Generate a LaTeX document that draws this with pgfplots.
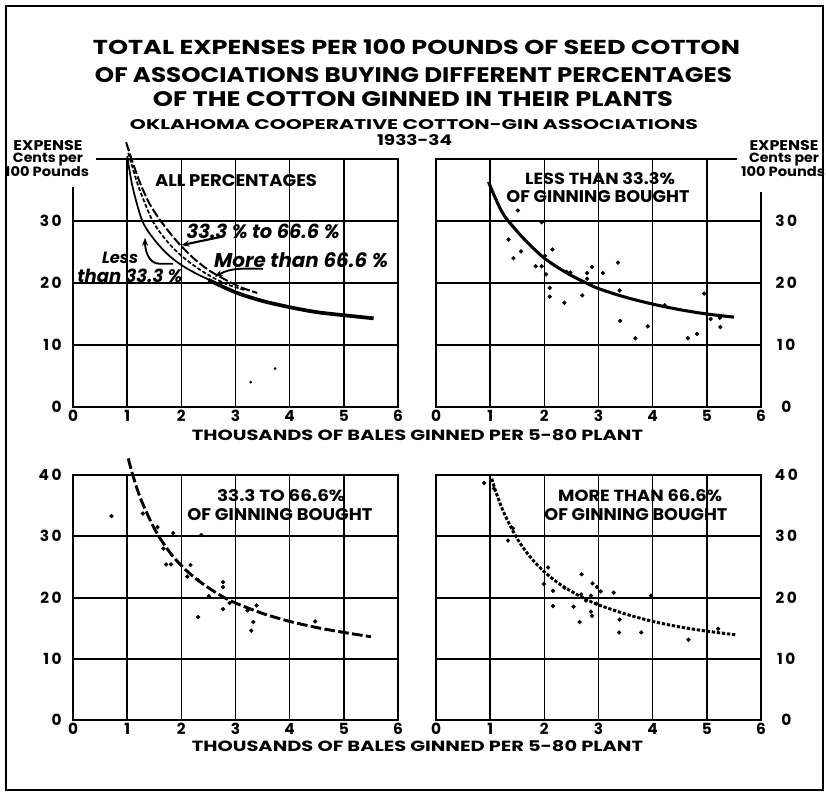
\documentclass[border=0pt]{standalone}
\usepackage{fontspec}
\setmainfont{Poppins}
\usepackage{graphicx}
\usepackage{pgfplots}
\pgfplotsset{compat=1.18}
\usetikzlibrary{arrows.meta}

% 1 px of the reference = 0.75pt
\newdimen\px \px=0.75pt
\newcommand{\wbox}[2]{\resizebox{#1\px}{!}{#2}}
\newcommand{\whbox}[3]{\resizebox{#1\px}{#2\px}{#3}}

\pgfplotsset{
  panel/.style={
    scale only axis, width=243.75pt,
    xmin=0, xmax=6, ymin=0, ymax=40,
    xtick={0,...,6}, xticklabels={0,1,2,3,4,5,6},
    grid=major,
    major x grid style={black, line width=1.2pt},
    major y grid style={black, line width=1.5pt},
    axis line style={black, line width=2pt},
    major tick length=0pt,
    tick label style={font=\fontsize{11.5}{13}\selectfont\bfseries},
    xticklabel style={yshift=1pt},
    clip=false,
  },
  leftlab/.style={yticklabel style={anchor=east, xshift=-5pt}},
  rightlab/.style={yticklabel pos=right, yticklabel style={anchor=center, xshift=19pt}},
  dots/.style={only marks, mark=*, mark size=1.4pt, black},
}

\begin{document}
\begin{tikzpicture}

% ---- top left: all percentages
\begin{axis}[panel, leftlab, height=186pt, at={(54.75pt,-305.25pt)}, anchor=south west,
  ytick={0,10,20,30}, yticklabels={0,1\,0,2\,0,3\,0}]
\addplot[black, line width=1.3pt, smooth] coordinates {
  (1.0,40.5) (1.1,35.5) (1.28,30.0) (1.5,27.0) (1.75,24.6) (2.0,22.9) (2.3,21.4) (2.6,20.2)};
\addplot[black, line width=1.3pt, smooth, dash pattern=on 3pt off 1.5pt] coordinates {
  (1.02,41.0) (1.2,35.8) (1.47,30.0) (1.75,26.6) (2.0,24.4) (2.3,22.4) (2.6,20.8) (2.9,19.6) (3.2,18.8)};
\addplot[black, line width=1.5pt, smooth, dash pattern=on 7pt off 2pt] coordinates {
  (0.98,42.7) (1.2,37.0) (1.4,33.0) (1.62,30.0) (1.9,26.9) (2.2,24.2) (2.5,22.1) (2.8,20.6) (3.1,19.3) (3.4,18.4)};
\addplot[black, line width=2.8pt, smooth] coordinates {
  (2.5,20.5) (3.0,18.5) (3.5,17.1) (4.0,16.1) (4.5,15.3) (5.0,14.8) (5.55,14.3)};
\addplot[only marks, mark=*, mark size=0.8pt, black] coordinates {(3.73,6.2) (3.28,4.0)};
\node[inner sep=0] at (axis cs:3.01,36.5) {\whbox{162}{12}{\bfseries ALL PERCENTAGES}};
\node[inner sep=0] at (axis cs:3.51,28.4) {\wbox{153}{\bfseries\itshape 33.3 \% to 66.6 \%}};
\node[inner sep=0] at (axis cs:4.21,23.7) {\wbox{174}{\bfseries\itshape More than 66.6 \%}};
\node[inner sep=0] at (axis cs:0.87,24.0) {\wbox{36}{\bfseries\itshape Less}};
\node[inner sep=0] at (axis cs:1.05,21.1) {\wbox{105}{\bfseries\itshape than 33.3 \%}};
\draw[-{Stealth[length=6pt]}, line width=1.6pt] (axis cs:2.71,27.4) -- (axis cs:2.0,26.1);
\draw[-{Stealth[length=6pt]}, line width=1.4pt] (axis cs:3.51,22.3) to[out=180,in=30] (axis cs:2.62,21.0);
\draw[-{Stealth[length=6pt]}, line width=1.4pt] (axis cs:1.85,23.1) -- (axis cs:1.6,23.1) to[out=180,in=-90] (axis cs:1.33,27.3);
\end{axis}

% ---- top right: less than 33.3%
\begin{axis}[panel, rightlab, height=186pt, at={(327pt,-305.25pt)}, anchor=south west,
  ytick={0,10,20,30}, yticklabels={0,1\,0,2\,0,3\,0}]
\addplot[black, line width=2.3pt, smooth] coordinates {
  (0.97,36.3) (1.1,33.6) (1.25,31.0) (1.5,28.3) (1.75,26.0) (2.0,24.0) (2.25,22.5) (2.5,21.2)
  (2.75,20.1) (3.0,19.1) (3.5,17.7) (4.0,16.6) (4.5,15.7) (5.0,15.0) (5.5,14.5)};
\addplot[dots] coordinates {
  (1.51,31.7) (1.34,27.0) (1.43,24.0) (1.57,25.1) (1.95,29.8) (1.84,22.7) (1.95,22.7)
  (2.03,21.4) (2.01,24.4) (2.15,25.4) (2.1,19.2) (2.1,17.8) (2.37,16.8) (2.41,21.8)
  (2.48,21.7) (2.7,18.0) (2.79,21.6) (2.79,20.7) (2.88,22.6) (3.08,21.6) (3.36,23.3)
  (3.39,18.8) (3.4,13.9) (3.68,11.1) (3.91,13.0) (4.22,16.4) (4.65,11.1) (4.82,11.8)
  (4.95,18.3) (5.07,14.2) (5.24,14.4) (5.25,12.9)};
\node[inner sep=0] at (axis cs:3.03,36.9) {\whbox{150}{12}{\bfseries LESS THAN 33.3\%}};
\node[inner sep=0] at (axis cs:2.99,33.9) {\whbox{183}{12}{\bfseries OF GINNING BOUGHT}};
\end{axis}

% ---- bottom left: 33.3 to 66.6%
\begin{axis}[panel, leftlab, height=183.75pt, at={(54.75pt,-540pt)}, anchor=south west,
  ytick={0,10,20,30,40}, yticklabels={0,1\,0,2\,0,3\,0,4\,0}]
\addplot[black, line width=2.2pt, smooth, dash pattern=on 8pt off 2.5pt] coordinates {
  (1.02,42.7) (1.1,40.1) (1.25,36.1) (1.5,31.3) (1.75,27.8) (2.0,25.2) (2.25,23.2) (2.5,21.6)
  (2.75,20.2) (3.0,19.1) (3.5,17.4) (4.0,16.1) (4.5,15.1) (5.0,14.3) (5.5,13.6)};
\addplot[dots] coordinates {
  (0.71,33.3) (1.29,33.7) (1.56,31.5) (1.85,30.5) (2.37,30.2) (1.67,28.0) (1.72,25.4)
  (1.81,25.4) (2.17,25.3) (2.11,23.4) (2.31,22.8) (2.51,20.2) (2.77,22.5) (2.77,21.7)
  (2.77,18.1) (2.89,19.1) (2.31,16.8) (3.22,17.9) (3.39,18.7) (3.33,16.0) (3.29,14.6)
  (4.47,16.1)};
\node[inner sep=0] at (axis cs:3.84,36.6) {\whbox{128}{12}{\bfseries 33.3 TO 66.6\%}};
\node[inner sep=0] at (axis cs:3.82,33.6) {\whbox{185}{12}{\bfseries OF GINNING BOUGHT}};
\end{axis}

% ---- bottom right: more than 66.6%
\begin{axis}[panel, rightlab, height=183.75pt, at={(327pt,-540pt)}, anchor=south west,
  ytick={0,10,20,30,40}, yticklabels={0,1\,0,2\,0,3\,0,4\,0}]
\addplot[black, line width=2.2pt, smooth, dash pattern=on 2.5pt off 1.3pt] coordinates {
  (1.03,39.4) (1.1,37.4) (1.25,33.9) (1.5,29.6) (1.75,26.5) (2.0,24.2) (2.25,22.4) (2.5,21.0)
  (2.75,19.8) (3.0,18.8) (3.5,17.3) (4.0,16.1) (4.5,15.2) (5.0,14.5) (5.55,13.9)};
\addplot[dots] coordinates {
  (0.89,38.7) (1.07,37.8) (1.42,31.3) (1.33,29.3) (2.07,24.9) (1.99,22.2) (2.16,21.1)
  (2.16,18.6) (2.37,21.6) (2.54,18.5) (2.65,16.0) (2.69,23.8) (2.68,20.5) (2.77,19.5)
  (2.86,20.3) (2.86,17.7) (2.88,17.0) (2.89,22.3) (2.97,21.7) (3.04,21.0) (2.96,19.0)
  (3.28,20.8) (3.39,16.4) (3.38,14.3) (3.79,14.3) (3.97,20.3) (4.66,13.1) (5.21,14.9)};
\node[inner sep=0] at (axis cs:3.77,36.6) {\whbox{164}{12}{\bfseries MORE THAN 66.6\%}};
\node[inner sep=0] at (axis cs:3.69,33.6) {\whbox{183}{12}{\bfseries OF GINNING BOUGHT}};
\end{axis}

% ---- titles, labels and frame, in reference pixels
\begin{scope}[x=0.75pt, y=-0.75pt]
\path (0,0) rectangle (826,800);
\draw[line width=2pt] (6,6) rectangle (823,790);
\fill[white] (60,150) rectangle (96,187);
\fill[white] (737,150) rectangle (772,192);
\node[inner sep=0] at (416.5,47.5) {\whbox{647}{15}{\bfseries TOTAL EXPENSES PER 100 POUNDS OF SEED COTTON}};
\node[inner sep=0] at (413.5,75) {\whbox{637}{15}{\bfseries OF ASSOCIATIONS BUYING DIFFERENT PERCENTAGES}};
\node[inner sep=0] at (413,99.5) {\whbox{520}{15}{\bfseries OF THE COTTON GINNED IN THEIR PLANTS}};
\node[inner sep=0] at (414,125) {\whbox{568}{10}{\bfseries OKLAHOMA COOPERATIVE COTTON-GIN ASSOCIATIONS}};
\node[inner sep=0] at (414.5,140.5) {\whbox{75}{11}{\bfseries 1933-34}};
\node[inner sep=0, anchor=base] at (48,150) {\whbox{69}{10}{\bfseries EXPENSE}};
\node[inner sep=0, anchor=base] at (48,162.5) {\whbox{70}{9.5}{\bfseries Cents per}};
\node[inner sep=0, anchor=base] at (47,176) {\whbox{84}{10}{\bfseries 100 Pounds}};
\node[inner sep=0, anchor=base] at (784,150) {\whbox{69}{10}{\bfseries EXPENSE}};
\node[inner sep=0, anchor=base] at (784,162.5) {\whbox{70}{9.5}{\bfseries Cents per}};
\node[inner sep=0, anchor=base] at (783,176) {\whbox{84}{10}{\bfseries 100 Pounds}};
\node[inner sep=0] at (417.5,435) {\whbox{451}{11}{\bfseries THOUSANDS OF BALES GINNED PER 5-80 PLANT}};
\node[inner sep=0] at (417.5,746) {\whbox{451}{11}{\bfseries THOUSANDS OF BALES GINNED PER 5-80 PLANT}};
\end{scope}

\end{tikzpicture}
\end{document}
